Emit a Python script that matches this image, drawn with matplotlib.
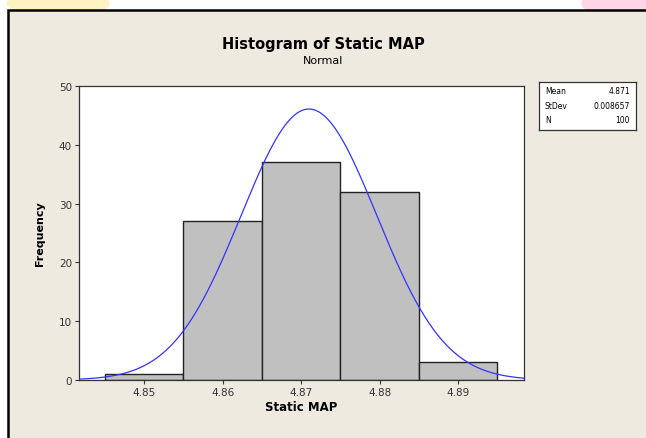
import numpy as np
import matplotlib.pyplot as plt
from matplotlib.patches import Rectangle, Ellipse

# data
bin_edges = [4.845, 4.855, 4.865, 4.875, 4.885, 4.895]
counts = [1, 27, 37, 32, 3]
mean = 4.871
stdev = 0.008657
n = 100
x_ticks = [4.85, 4.86, 4.87, 4.88, 4.89]
y_ticks = [0, 10, 20, 30, 40, 50]

bg = '#EEEAE0'
fig = plt.figure(figsize=(6.46, 4.39), dpi=100)
fig.patch.set_facecolor('white')

# faint watermark blobs behind the frame
for (cx, cy, w, h, c) in [(0.09, 0.99, 0.16, 0.06, '#FFF3C4'),
                          (0.97, 0.99, 0.14, 0.07, '#FFD6E8')]:
    fig.patches.append(Ellipse((cx, cy), w, h, transform=fig.transFigure,
                               facecolor=c, edgecolor='none', zorder=0))

# Minitab graph frame
fig.patches.append(Rectangle((8 / 646, -0.05), 1.0, 0.975 + 0.05,
                             transform=fig.transFigure, facecolor=bg,
                             edgecolor='black', linewidth=1.8, zorder=1))

ax = fig.add_axes([79 / 646, (439 - 381) / 439, 445 / 646, 294 / 439])
ax.set_facecolor('white')
ax.set_zorder(2)

widths = np.diff(bin_edges)
ax.bar(bin_edges[:-1], counts, width=widths, align='edge',
       color='#C0C0C0', edgecolor='#222222', linewidth=1.0, zorder=2)

xs = np.linspace(4.8417, 4.8984, 400)
pdf = n * widths[0] * np.exp(-0.5 * ((xs - mean) / stdev) ** 2) / (stdev * np.sqrt(2 * np.pi))
ax.plot(xs, pdf, color='#3333FF', linewidth=0.9, zorder=3)

ax.set_xlim(4.8417, 4.8984)
ax.set_ylim(0, 50)
ax.set_xticks(x_ticks)
ax.set_xticklabels(['%.2f' % v for v in x_ticks])
ax.set_yticks(y_ticks)
ax.tick_params(direction='out', length=3, width=0.8, labelsize=7.5,
               colors='#333333', pad=2)
for s in ax.spines.values():
    s.set_color('#333333')
    s.set_linewidth(0.9)

ax.set_xlabel('Static MAP', fontsize=8.5, fontweight='bold', labelpad=2)
ax.set_ylabel('Frequency', fontsize=8, fontweight='bold', labelpad=10)

fig.text(0.5, (439 - 44) / 439, 'Histogram of Static MAP', ha='center',
         va='center', fontsize=10.5, fontweight='bold', zorder=3)
fig.text(0.5, (439 - 61) / 439, 'Normal', ha='center', va='center',
         fontsize=8, zorder=3)

# statistics box
sb = fig.add_axes([539 / 646, (439 - 131) / 439, 97 / 646, 48 / 439])
sb.set_zorder(2)
sb.set_facecolor('white')
sb.set_xticks([])
sb.set_yticks([])
for s in sb.spines.values():
    s.set_color('#333333')
    s.set_linewidth(0.9)
rows = [('Mean', '4.871'), ('StDev', '0.008657'), ('N', str(n))]
for i, (k, v) in enumerate(rows):
    y = 0.82 - i * 0.3
    sb.text(0.06, y, k, fontsize=5.5, va='center', ha='left')
    sb.text(0.94, y, v, fontsize=5.5, va='center', ha='right')

fig.savefig('out.png', dpi=100, facecolor=fig.get_facecolor())
